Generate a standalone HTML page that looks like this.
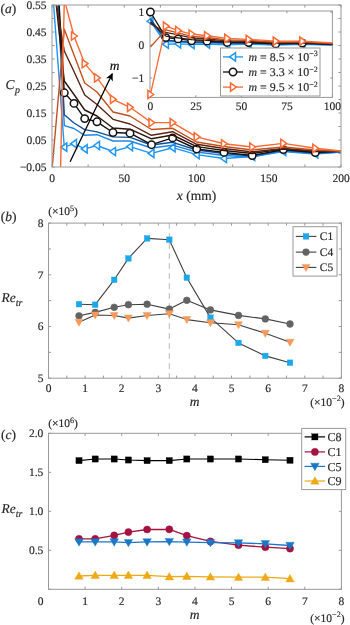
<!DOCTYPE html><html><head><meta charset="utf-8"><style>html,body{margin:0;padding:0;background:#fff;width:350px;height:625px;overflow:hidden}svg{display:block;font-family:"Liberation Serif",serif;will-change:transform;text-rendering:geometricPrecision}text{stroke:#333;stroke-width:0.18px}</style></head><body><svg width="350" height="625" viewBox="0 0 350 625"><defs><clipPath id="ca"><rect x="52" y="5" width="289" height="162"/></clipPath><clipPath id="ci"><rect x="150" y="11" width="182.39999999999998" height="86.4"/></clipPath><marker id="ah" viewBox="0 0 10 10" refX="9" refY="5" markerWidth="8" markerHeight="7.5" orient="auto-start-reverse" markerUnits="userSpaceOnUse"><path d="M0,0 L10,5 L0,10 L2.5,5 z" fill="#000"/></marker></defs>
<g font-family="Liberation Serif, serif">
<polyline points="52,-16.6 64.3,147.2 74,143.7 84.7,148.9 97,145.5 113,151.5 130,146.6 151.5,153.4 172.6,147.7 196.7,154.6 224,158.5 252.2,156.5 283.3,151.5 315.3,154 341,152" fill="none" stroke="#1f96f5" stroke-width="1.4" stroke-linejoin="round" clip-path="url(#ca)"/>
<polygon points="60.98,147.2 66.79,143.05 66.79,151.35" fill="#fff" stroke="#1f96f5" stroke-width="1.5" stroke-linejoin="miter" clip-path="url(#ca)"/>
<polygon points="70.68,143.7 76.49,139.55 76.49,147.85" fill="#fff" stroke="#1f96f5" stroke-width="1.5" stroke-linejoin="miter" clip-path="url(#ca)"/>
<polygon points="81.38,148.9 87.19,144.75 87.19,153.05" fill="#fff" stroke="#1f96f5" stroke-width="1.5" stroke-linejoin="miter" clip-path="url(#ca)"/>
<polygon points="93.68,145.5 99.49,141.35 99.49,149.65" fill="#fff" stroke="#1f96f5" stroke-width="1.5" stroke-linejoin="miter" clip-path="url(#ca)"/>
<polygon points="109.68,151.5 115.49,147.35 115.49,155.65" fill="#fff" stroke="#1f96f5" stroke-width="1.5" stroke-linejoin="miter" clip-path="url(#ca)"/>
<polygon points="126.68,146.6 132.49,142.45 132.49,150.75" fill="#fff" stroke="#1f96f5" stroke-width="1.5" stroke-linejoin="miter" clip-path="url(#ca)"/>
<polygon points="148.18,153.4 153.99,149.25 153.99,157.55" fill="#fff" stroke="#1f96f5" stroke-width="1.5" stroke-linejoin="miter" clip-path="url(#ca)"/>
<polygon points="169.28,147.7 175.09,143.55 175.09,151.85" fill="#fff" stroke="#1f96f5" stroke-width="1.5" stroke-linejoin="miter" clip-path="url(#ca)"/>
<polygon points="193.38,154.6 199.19,150.45 199.19,158.75" fill="#fff" stroke="#1f96f5" stroke-width="1.5" stroke-linejoin="miter" clip-path="url(#ca)"/>
<polygon points="220.68,158.5 226.49,154.35 226.49,162.65" fill="#fff" stroke="#1f96f5" stroke-width="1.5" stroke-linejoin="miter" clip-path="url(#ca)"/>
<polygon points="248.88,156.5 254.69,152.35 254.69,160.65" fill="#fff" stroke="#1f96f5" stroke-width="1.5" stroke-linejoin="miter" clip-path="url(#ca)"/>
<polygon points="279.98,151.5 285.79,147.35 285.79,155.65" fill="#fff" stroke="#1f96f5" stroke-width="1.5" stroke-linejoin="miter" clip-path="url(#ca)"/>
<polygon points="311.98,154 317.79,149.85 317.79,158.15" fill="#fff" stroke="#1f96f5" stroke-width="1.5" stroke-linejoin="miter" clip-path="url(#ca)"/>
<polyline points="52,-116.5 64.3,125.6 74,128.5 84.7,135.3 97,134.7 113,141 130,141 151.5,148 172.6,145.2 196.7,152 224,155.5 252.2,157 283.3,151 315.3,153.5 341,152" fill="none" stroke="#2286e0" stroke-width="1.4" stroke-linejoin="round" clip-path="url(#ca)"/>
<polyline points="52,-130 64.3,114.7 74,123 84.7,129.6 97,131.9 113,136.9 130,137.4 151.5,145 172.6,142.3 196.7,150 224,153.5 252.2,156 283.3,150 315.3,153 341,151.5" fill="none" stroke="#10509a" stroke-width="1.4" stroke-linejoin="round" clip-path="url(#ca)"/>
<polyline points="52,-116.5 64.3,92.8 74,103.4 84.7,118.6 97,121.8 113,132.5 130,133.2 151.5,144.7 172.6,137.9 196.7,149 224,152.4 252.2,155.5 283.3,149.6 315.3,152.5 341,151" fill="none" stroke="#111111" stroke-width="1.4" stroke-linejoin="round" clip-path="url(#ca)"/>
<circle cx="64.3" cy="92.8" r="3.7" fill="#fff" stroke="#111111" stroke-width="1.5" clip-path="url(#ca)"/>
<circle cx="74" cy="103.4" r="3.7" fill="#fff" stroke="#111111" stroke-width="1.5" clip-path="url(#ca)"/>
<circle cx="84.7" cy="118.6" r="3.7" fill="#fff" stroke="#111111" stroke-width="1.5" clip-path="url(#ca)"/>
<circle cx="97" cy="121.8" r="3.7" fill="#fff" stroke="#111111" stroke-width="1.5" clip-path="url(#ca)"/>
<circle cx="113" cy="132.5" r="3.7" fill="#fff" stroke="#111111" stroke-width="1.5" clip-path="url(#ca)"/>
<circle cx="130" cy="133.2" r="3.7" fill="#fff" stroke="#111111" stroke-width="1.5" clip-path="url(#ca)"/>
<circle cx="151.5" cy="144.7" r="3.7" fill="#fff" stroke="#111111" stroke-width="1.5" clip-path="url(#ca)"/>
<circle cx="172.6" cy="137.9" r="3.7" fill="#fff" stroke="#111111" stroke-width="1.5" clip-path="url(#ca)"/>
<circle cx="196.7" cy="149" r="3.7" fill="#fff" stroke="#111111" stroke-width="1.5" clip-path="url(#ca)"/>
<circle cx="224" cy="152.4" r="3.7" fill="#fff" stroke="#111111" stroke-width="1.5" clip-path="url(#ca)"/>
<circle cx="252.2" cy="155.5" r="3.7" fill="#fff" stroke="#111111" stroke-width="1.5" clip-path="url(#ca)"/>
<circle cx="283.3" cy="149.6" r="3.7" fill="#fff" stroke="#111111" stroke-width="1.5" clip-path="url(#ca)"/>
<circle cx="315.3" cy="152.5" r="3.7" fill="#fff" stroke="#111111" stroke-width="1.5" clip-path="url(#ca)"/>
<polyline points="52,-35.5 64.3,81 74,94.5 84.7,110 97,116 113,128 130,129.2 151.5,138.8 172.6,135 196.7,146.6 224,150.5 252.2,153.5 283.3,149 315.3,151.5 341,151" fill="none" stroke="#2e1308" stroke-width="1.4" stroke-linejoin="round" clip-path="url(#ca)"/>
<polyline points="52,-22 64.3,51 74,71.5 84.7,95 97,104.5 113,119.3 130,124 151.5,135.3 172.6,131.7 196.7,144.3 224,148.5 252.2,152 283.3,148.5 315.3,151 341,151" fill="none" stroke="#5a2410" stroke-width="1.4" stroke-linejoin="round" clip-path="url(#ca)"/>
<polyline points="52,169.7 64.3,29.3 74,55 84.7,83 97,92 113,112 130,116 151.5,129.5 172.6,128.3 196.7,142 224,146.5 252.2,150 283.3,147 315.3,150 341,151" fill="none" stroke="#c2501e" stroke-width="1.4" stroke-linejoin="round" clip-path="url(#ca)"/>
<polyline points="52,558.5 64.3,-0.4 74,36 84.7,63.6 97,77.9 113,99.3 130,107.3 151.5,122.6 172.6,122.6 196.7,136.9 224,143.8 252.2,147 283.3,143.4 315.3,148.3 341,151" fill="none" stroke="#fa6a35" stroke-width="1.4" stroke-linejoin="round" clip-path="url(#ca)"/>
<polygon points="67.62,-0.4 61.81,-4.55 61.81,3.75" fill="#fff" stroke="#fa6a35" stroke-width="1.5" stroke-linejoin="miter" clip-path="url(#ca)"/>
<polygon points="77.32,36 71.51,31.85 71.51,40.15" fill="#fff" stroke="#fa6a35" stroke-width="1.5" stroke-linejoin="miter" clip-path="url(#ca)"/>
<polygon points="88.02,63.6 82.21,59.45 82.21,67.75" fill="#fff" stroke="#fa6a35" stroke-width="1.5" stroke-linejoin="miter" clip-path="url(#ca)"/>
<polygon points="100.32,77.9 94.51,73.75 94.51,82.05" fill="#fff" stroke="#fa6a35" stroke-width="1.5" stroke-linejoin="miter" clip-path="url(#ca)"/>
<polygon points="116.32,99.3 110.51,95.15 110.51,103.45" fill="#fff" stroke="#fa6a35" stroke-width="1.5" stroke-linejoin="miter" clip-path="url(#ca)"/>
<polygon points="133.32,107.3 127.51,103.15 127.51,111.45" fill="#fff" stroke="#fa6a35" stroke-width="1.5" stroke-linejoin="miter" clip-path="url(#ca)"/>
<polygon points="154.82,122.6 149.01,118.45 149.01,126.75" fill="#fff" stroke="#fa6a35" stroke-width="1.5" stroke-linejoin="miter" clip-path="url(#ca)"/>
<polygon points="175.92,122.6 170.11,118.45 170.11,126.75" fill="#fff" stroke="#fa6a35" stroke-width="1.5" stroke-linejoin="miter" clip-path="url(#ca)"/>
<polygon points="200.02,136.9 194.21,132.75 194.21,141.05" fill="#fff" stroke="#fa6a35" stroke-width="1.5" stroke-linejoin="miter" clip-path="url(#ca)"/>
<polygon points="227.32,143.8 221.51,139.65 221.51,147.95" fill="#fff" stroke="#fa6a35" stroke-width="1.5" stroke-linejoin="miter" clip-path="url(#ca)"/>
<polygon points="255.52,147 249.71,142.85 249.71,151.15" fill="#fff" stroke="#fa6a35" stroke-width="1.5" stroke-linejoin="miter" clip-path="url(#ca)"/>
<polygon points="286.62,143.4 280.81,139.25 280.81,147.55" fill="#fff" stroke="#fa6a35" stroke-width="1.5" stroke-linejoin="miter" clip-path="url(#ca)"/>
<polygon points="318.62,148.3 312.81,144.15 312.81,152.45" fill="#fff" stroke="#fa6a35" stroke-width="1.5" stroke-linejoin="miter" clip-path="url(#ca)"/>
<rect x="52" y="5" width="289" height="162" fill="none" stroke="#999999" stroke-width="1"/>
<line x1="52" y1="167" x2="52" y2="164.4" stroke="#999999" stroke-width="1"/>
<line x1="52" y1="5" x2="52" y2="7.6" stroke="#999999" stroke-width="1"/>
<line x1="88.12" y1="167" x2="88.12" y2="164.4" stroke="#999999" stroke-width="1"/>
<line x1="88.12" y1="5" x2="88.12" y2="7.6" stroke="#999999" stroke-width="1"/>
<line x1="124.25" y1="167" x2="124.25" y2="164.4" stroke="#999999" stroke-width="1"/>
<line x1="124.25" y1="5" x2="124.25" y2="7.6" stroke="#999999" stroke-width="1"/>
<line x1="160.38" y1="167" x2="160.38" y2="164.4" stroke="#999999" stroke-width="1"/>
<line x1="160.38" y1="5" x2="160.38" y2="7.6" stroke="#999999" stroke-width="1"/>
<line x1="196.5" y1="167" x2="196.5" y2="164.4" stroke="#999999" stroke-width="1"/>
<line x1="196.5" y1="5" x2="196.5" y2="7.6" stroke="#999999" stroke-width="1"/>
<line x1="232.62" y1="167" x2="232.62" y2="164.4" stroke="#999999" stroke-width="1"/>
<line x1="232.62" y1="5" x2="232.62" y2="7.6" stroke="#999999" stroke-width="1"/>
<line x1="268.75" y1="167" x2="268.75" y2="164.4" stroke="#999999" stroke-width="1"/>
<line x1="268.75" y1="5" x2="268.75" y2="7.6" stroke="#999999" stroke-width="1"/>
<line x1="304.88" y1="167" x2="304.88" y2="164.4" stroke="#999999" stroke-width="1"/>
<line x1="304.88" y1="5" x2="304.88" y2="7.6" stroke="#999999" stroke-width="1"/>
<line x1="341" y1="167" x2="341" y2="164.4" stroke="#999999" stroke-width="1"/>
<line x1="341" y1="5" x2="341" y2="7.6" stroke="#999999" stroke-width="1"/>
<line x1="52" y1="167" x2="54.6" y2="167" stroke="#999999" stroke-width="1"/>
<line x1="341" y1="167" x2="338.4" y2="167" stroke="#999999" stroke-width="1"/>
<line x1="52" y1="153.5" x2="54.6" y2="153.5" stroke="#999999" stroke-width="1"/>
<line x1="341" y1="153.5" x2="338.4" y2="153.5" stroke="#999999" stroke-width="1"/>
<line x1="52" y1="140" x2="54.6" y2="140" stroke="#999999" stroke-width="1"/>
<line x1="341" y1="140" x2="338.4" y2="140" stroke="#999999" stroke-width="1"/>
<line x1="52" y1="126.5" x2="54.6" y2="126.5" stroke="#999999" stroke-width="1"/>
<line x1="341" y1="126.5" x2="338.4" y2="126.5" stroke="#999999" stroke-width="1"/>
<line x1="52" y1="113" x2="54.6" y2="113" stroke="#999999" stroke-width="1"/>
<line x1="341" y1="113" x2="338.4" y2="113" stroke="#999999" stroke-width="1"/>
<line x1="52" y1="99.5" x2="54.6" y2="99.5" stroke="#999999" stroke-width="1"/>
<line x1="341" y1="99.5" x2="338.4" y2="99.5" stroke="#999999" stroke-width="1"/>
<line x1="52" y1="86" x2="54.6" y2="86" stroke="#999999" stroke-width="1"/>
<line x1="341" y1="86" x2="338.4" y2="86" stroke="#999999" stroke-width="1"/>
<line x1="52" y1="72.5" x2="54.6" y2="72.5" stroke="#999999" stroke-width="1"/>
<line x1="341" y1="72.5" x2="338.4" y2="72.5" stroke="#999999" stroke-width="1"/>
<line x1="52" y1="59" x2="54.6" y2="59" stroke="#999999" stroke-width="1"/>
<line x1="341" y1="59" x2="338.4" y2="59" stroke="#999999" stroke-width="1"/>
<line x1="52" y1="45.5" x2="54.6" y2="45.5" stroke="#999999" stroke-width="1"/>
<line x1="341" y1="45.5" x2="338.4" y2="45.5" stroke="#999999" stroke-width="1"/>
<line x1="52" y1="32" x2="54.6" y2="32" stroke="#999999" stroke-width="1"/>
<line x1="341" y1="32" x2="338.4" y2="32" stroke="#999999" stroke-width="1"/>
<line x1="52" y1="18.5" x2="54.6" y2="18.5" stroke="#999999" stroke-width="1"/>
<line x1="341" y1="18.5" x2="338.4" y2="18.5" stroke="#999999" stroke-width="1"/>
<line x1="52" y1="5" x2="54.6" y2="5" stroke="#999999" stroke-width="1"/>
<line x1="341" y1="5" x2="338.4" y2="5" stroke="#999999" stroke-width="1"/>
<text x="52" y="181.81" font-size="11.5" text-anchor="middle" fill="#262626">0</text>
<text x="124.25" y="181.81" font-size="11.5" text-anchor="middle" fill="#262626">50</text>
<text x="196.5" y="181.81" font-size="11.5" text-anchor="middle" fill="#262626">100</text>
<text x="268.75" y="181.81" font-size="11.5" text-anchor="middle" fill="#262626">150</text>
<text x="341" y="181.81" font-size="11.5" text-anchor="middle" fill="#262626">200</text>
<text x="46.5" y="170.91" font-size="11.5" text-anchor="end" fill="#262626">&#8722;0.05</text>
<text x="46.5" y="143.91" font-size="11.5" text-anchor="end" fill="#262626">0.05</text>
<text x="46.5" y="116.91" font-size="11.5" text-anchor="end" fill="#262626">0.15</text>
<text x="46.5" y="89.91" font-size="11.5" text-anchor="end" fill="#262626">0.25</text>
<text x="46.5" y="62.91" font-size="11.5" text-anchor="end" fill="#262626">0.35</text>
<text x="46.5" y="35.91" font-size="11.5" text-anchor="end" fill="#262626">0.45</text>
<text x="46.5" y="8.91" font-size="11.5" text-anchor="end" fill="#262626">0.55</text>
<line x1="70.1" y1="161.7" x2="112.3" y2="73.7" stroke="#000" stroke-width="1.3" marker-end="url(#ah)"/>
<text x="114.5" y="70.09" font-size="13.5" text-anchor="middle" font-style="italic" fill="#000">m</text>
<text x="196.5" y="200.09" font-size="13.5" text-anchor="middle" fill="#262626"><tspan font-style="italic">x</tspan> (mm)</text>
<text x="5.5" y="89.2" font-size="13.5" font-style="italic" fill="#262626">C<tspan font-size="10" dx="0.4" dy="4">p</tspan></text>
<text x="0.5" y="12.5" font-size="13.5" fill="#262626">(<tspan font-style="italic">a</tspan>)</text>
<rect x="150" y="11" width="182.39999999999998" height="86.4" fill="#fff" stroke="none"/>
<rect x="150" y="11" width="182.4" height="86.4" fill="none" stroke="#999999" stroke-width="1"/>
<line x1="150.4" y1="97.4" x2="150.4" y2="95.2" stroke="#999999" stroke-width="1"/>
<line x1="150.4" y1="11" x2="150.4" y2="13.2" stroke="#999999" stroke-width="1"/>
<line x1="195.9" y1="97.4" x2="195.9" y2="95.2" stroke="#999999" stroke-width="1"/>
<line x1="195.9" y1="11" x2="195.9" y2="13.2" stroke="#999999" stroke-width="1"/>
<line x1="241.4" y1="97.4" x2="241.4" y2="95.2" stroke="#999999" stroke-width="1"/>
<line x1="241.4" y1="11" x2="241.4" y2="13.2" stroke="#999999" stroke-width="1"/>
<line x1="286.9" y1="97.4" x2="286.9" y2="95.2" stroke="#999999" stroke-width="1"/>
<line x1="286.9" y1="11" x2="286.9" y2="13.2" stroke="#999999" stroke-width="1"/>
<line x1="332.4" y1="97.4" x2="332.4" y2="95.2" stroke="#999999" stroke-width="1"/>
<line x1="332.4" y1="11" x2="332.4" y2="13.2" stroke="#999999" stroke-width="1"/>
<line x1="150" y1="78" x2="152.2" y2="78" stroke="#999999" stroke-width="1"/>
<line x1="332.4" y1="78" x2="330.2" y2="78" stroke="#999999" stroke-width="1"/>
<line x1="150" y1="45" x2="152.2" y2="45" stroke="#999999" stroke-width="1"/>
<line x1="332.4" y1="45" x2="330.2" y2="45" stroke="#999999" stroke-width="1"/>
<line x1="150" y1="12" x2="152.2" y2="12" stroke="#999999" stroke-width="1"/>
<line x1="332.4" y1="12" x2="330.2" y2="12" stroke="#999999" stroke-width="1"/>
<polyline points="150.4,21.24 165.89,44.23 178.11,43.8 191.59,44.44 207.08,44.02 227.23,44.76 248.64,44.16 275.72,44.99 302.3,44.29 332.65,45.13 367.04,45.61 402.56,45.37 441.73,44.76 482.03,45.06 514.4,44.82" fill="none" stroke="#1f96f5" stroke-width="1.3" stroke-linejoin="round" clip-path="url(#ci)"/>
<polygon points="147.08,21.24 152.89,17.09 152.89,25.39" fill="#fff" stroke="#1f96f5" stroke-width="1.5" stroke-linejoin="miter"/>
<polygon points="162.57,44.23 168.38,40.08 168.38,48.38" fill="#fff" stroke="#1f96f5" stroke-width="1.5" stroke-linejoin="miter"/>
<polygon points="174.79,43.8 180.6,39.65 180.6,47.95" fill="#fff" stroke="#1f96f5" stroke-width="1.5" stroke-linejoin="miter"/>
<polygon points="188.27,44.44 194.08,40.29 194.08,48.59" fill="#fff" stroke="#1f96f5" stroke-width="1.5" stroke-linejoin="miter"/>
<polygon points="203.76,44.02 209.57,39.87 209.57,48.17" fill="#fff" stroke="#1f96f5" stroke-width="1.5" stroke-linejoin="miter"/>
<polygon points="223.91,44.76 229.72,40.61 229.72,48.91" fill="#fff" stroke="#1f96f5" stroke-width="1.5" stroke-linejoin="miter"/>
<polygon points="245.32,44.16 251.13,40.01 251.13,48.31" fill="#fff" stroke="#1f96f5" stroke-width="1.5" stroke-linejoin="miter"/>
<polygon points="272.4,44.99 278.21,40.84 278.21,49.14" fill="#fff" stroke="#1f96f5" stroke-width="1.5" stroke-linejoin="miter"/>
<polygon points="298.98,44.29 304.79,40.14 304.79,48.44" fill="#fff" stroke="#1f96f5" stroke-width="1.5" stroke-linejoin="miter"/>
<polyline points="150.4,20.25 165.89,41.59 178.11,41.94 191.59,42.78 207.08,42.7 227.23,43.47 248.64,43.47 275.72,44.33 302.3,43.99 332.65,44.82 367.04,45.24 402.56,45.43 441.73,44.69 482.03,45 514.4,44.82" fill="none" stroke="#2286e0" stroke-width="1.3" stroke-linejoin="round" clip-path="url(#ci)"/>
<polyline points="150.4,18.6 165.89,40.26 178.11,41.27 191.59,42.08 207.08,42.36 227.23,42.97 248.64,43.03 275.72,43.96 302.3,43.63 332.65,44.57 367.04,45 402.56,45.31 441.73,44.57 482.03,44.94 514.4,44.76" fill="none" stroke="#10509a" stroke-width="1.3" stroke-linejoin="round" clip-path="url(#ci)"/>
<polyline points="150.4,12 165.89,37.58 178.11,38.88 191.59,40.73 207.08,41.13 227.23,42.43 248.64,42.52 275.72,43.92 302.3,43.09 332.65,44.45 367.04,44.87 402.56,45.24 441.73,44.52 482.03,44.88 514.4,44.69" fill="none" stroke="#111111" stroke-width="1.3" stroke-linejoin="round" clip-path="url(#ci)"/>
<circle cx="150.4" cy="12" r="3.7" fill="#fff" stroke="#111111" stroke-width="1.5"/>
<circle cx="165.89" cy="37.58" r="3.7" fill="#fff" stroke="#111111" stroke-width="1.5"/>
<circle cx="178.11" cy="38.88" r="3.7" fill="#fff" stroke="#111111" stroke-width="1.5"/>
<circle cx="191.59" cy="40.73" r="3.7" fill="#fff" stroke="#111111" stroke-width="1.5"/>
<circle cx="207.08" cy="41.13" r="3.7" fill="#fff" stroke="#111111" stroke-width="1.5"/>
<circle cx="227.23" cy="42.43" r="3.7" fill="#fff" stroke="#111111" stroke-width="1.5"/>
<circle cx="248.64" cy="42.52" r="3.7" fill="#fff" stroke="#111111" stroke-width="1.5"/>
<circle cx="275.72" cy="43.92" r="3.7" fill="#fff" stroke="#111111" stroke-width="1.5"/>
<circle cx="302.3" cy="43.09" r="3.7" fill="#fff" stroke="#111111" stroke-width="1.5"/>
<polyline points="150.4,21.9 165.89,36.14 178.11,37.79 191.59,39.68 207.08,40.42 227.23,41.88 248.64,42.03 275.72,43.2 302.3,42.74 332.65,44.16 367.04,44.63 402.56,45 441.73,44.45 482.03,44.76 514.4,44.69" fill="none" stroke="#2e1308" stroke-width="1.3" stroke-linejoin="round" clip-path="url(#ci)"/>
<polyline points="150.4,23.55 165.89,32.47 178.11,34.98 191.59,37.85 207.08,39.01 227.23,40.82 248.64,41.39 275.72,42.78 302.3,42.34 332.65,43.88 367.04,44.39 402.56,44.82 441.73,44.39 482.03,44.69 514.4,44.69" fill="none" stroke="#5a2410" stroke-width="1.3" stroke-linejoin="round" clip-path="url(#ci)"/>
<polyline points="150.4,46.98 165.89,29.82 178.11,32.96 191.59,36.38 207.08,37.48 227.23,39.93 248.64,40.42 275.72,42.07 302.3,41.92 332.65,43.59 367.04,44.14 402.56,44.57 441.73,44.21 482.03,44.57 514.4,44.69" fill="none" stroke="#c2501e" stroke-width="1.3" stroke-linejoin="round" clip-path="url(#ci)"/>
<polyline points="150.4,94.5 165.89,26.19 178.11,30.64 191.59,34.01 207.08,35.76 227.23,38.38 248.64,39.35 275.72,41.22 302.3,41.22 332.65,42.97 367.04,43.81 402.56,44.21 441.73,43.77 482.03,44.36 514.4,44.69" fill="none" stroke="#fa6a35" stroke-width="1.3" stroke-linejoin="round" clip-path="url(#ci)"/>
<polygon points="153.72,94.5 147.91,90.35 147.91,98.65" fill="#fff" stroke="#fa6a35" stroke-width="1.5" stroke-linejoin="miter"/>
<polygon points="169.21,26.19 163.4,22.04 163.4,30.34" fill="#fff" stroke="#fa6a35" stroke-width="1.5" stroke-linejoin="miter"/>
<polygon points="181.43,30.64 175.62,26.49 175.62,34.79" fill="#fff" stroke="#fa6a35" stroke-width="1.5" stroke-linejoin="miter"/>
<polygon points="194.91,34.01 189.1,29.86 189.1,38.16" fill="#fff" stroke="#fa6a35" stroke-width="1.5" stroke-linejoin="miter"/>
<polygon points="210.4,35.76 204.59,31.61 204.59,39.91" fill="#fff" stroke="#fa6a35" stroke-width="1.5" stroke-linejoin="miter"/>
<polygon points="230.55,38.38 224.74,34.23 224.74,42.53" fill="#fff" stroke="#fa6a35" stroke-width="1.5" stroke-linejoin="miter"/>
<polygon points="251.96,39.35 246.15,35.2 246.15,43.5" fill="#fff" stroke="#fa6a35" stroke-width="1.5" stroke-linejoin="miter"/>
<polygon points="279.04,41.22 273.23,37.07 273.23,45.37" fill="#fff" stroke="#fa6a35" stroke-width="1.5" stroke-linejoin="miter"/>
<polygon points="305.62,41.22 299.81,37.07 299.81,45.37" fill="#fff" stroke="#fa6a35" stroke-width="1.5" stroke-linejoin="miter"/>
<text x="150.4" y="109.91" font-size="11.5" text-anchor="middle" fill="#262626">0</text>
<text x="195.9" y="109.91" font-size="11.5" text-anchor="middle" fill="#262626">25</text>
<text x="241.4" y="109.91" font-size="11.5" text-anchor="middle" fill="#262626">50</text>
<text x="286.9" y="109.91" font-size="11.5" text-anchor="middle" fill="#262626">75</text>
<text x="332.4" y="109.91" font-size="11.5" text-anchor="middle" fill="#262626">100</text>
<text x="144.2" y="15.91" font-size="11.5" text-anchor="end" fill="#262626">1</text>
<text x="144.2" y="48.91" font-size="11.5" text-anchor="end" fill="#262626">0</text>
<text x="144.2" y="81.91" font-size="11.5" text-anchor="end" fill="#262626">&#8722;1</text>
<rect x="220.5" y="48" width="99.5" height="48" fill="#fff" stroke="#999999" stroke-width="1"/>
<line x1="223" y1="56.9" x2="243" y2="56.9" stroke="#1f96f5" stroke-width="1.3"/>
<polygon points="229.68,56.9 235.49,52.75 235.49,61.05" fill="#fff" stroke="#1f96f5" stroke-width="1.5" stroke-linejoin="miter"/>
<text x="248.5" y="60.9" font-size="11.9" fill="#262626"><tspan font-style="italic">m</tspan> = 8.5 × 10<tspan font-size="8" dy="-4.5">&#8722;3</tspan></text>
<line x1="223" y1="72" x2="243" y2="72" stroke="#111111" stroke-width="1.3"/>
<circle cx="233" cy="72" r="3.7" fill="#fff" stroke="#111111" stroke-width="1.5"/>
<text x="248.5" y="76" font-size="11.9" fill="#262626"><tspan font-style="italic">m</tspan> = 3.3 × 10<tspan font-size="8" dy="-4.5">&#8722;2</tspan></text>
<line x1="223" y1="87.1" x2="243" y2="87.1" stroke="#fa6a35" stroke-width="1.3"/>
<polygon points="236.32,87.1 230.51,82.95 230.51,91.25" fill="#fff" stroke="#fa6a35" stroke-width="1.5" stroke-linejoin="miter"/>
<text x="248.5" y="91.1" font-size="11.9" fill="#262626"><tspan font-style="italic">m</tspan> = 9.5 × 10<tspan font-size="8" dy="-4.5">&#8722;2</tspan></text>
</g>
<g font-family="Liberation Serif, serif">
<line x1="169.3" y1="223.1" x2="169.3" y2="378.2" stroke="#b8b8b8" stroke-width="1" stroke-dasharray="6,4"/>
<polyline points="79,304.2 95.2,304.7 114.2,279.8 128.4,258.4 147.1,238.4 169.3,239.7 186.8,277.7 210.4,317.6 238.5,342.9 265.3,355.9 290,362.7" fill="none" stroke="#404040" stroke-width="1.1" stroke-linejoin="round"/>
<rect x="76.2" y="301.4" width="5.6" height="5.6" fill="#1aa7ec" stroke="#1aa7ec" stroke-width="0.4"/>
<rect x="92.4" y="301.9" width="5.6" height="5.6" fill="#1aa7ec" stroke="#1aa7ec" stroke-width="0.4"/>
<rect x="111.4" y="277" width="5.6" height="5.6" fill="#1aa7ec" stroke="#1aa7ec" stroke-width="0.4"/>
<rect x="125.6" y="255.6" width="5.6" height="5.6" fill="#1aa7ec" stroke="#1aa7ec" stroke-width="0.4"/>
<rect x="144.3" y="235.6" width="5.6" height="5.6" fill="#1aa7ec" stroke="#1aa7ec" stroke-width="0.4"/>
<rect x="166.5" y="236.9" width="5.6" height="5.6" fill="#1aa7ec" stroke="#1aa7ec" stroke-width="0.4"/>
<rect x="184" y="274.9" width="5.6" height="5.6" fill="#1aa7ec" stroke="#1aa7ec" stroke-width="0.4"/>
<rect x="207.6" y="314.8" width="5.6" height="5.6" fill="#1aa7ec" stroke="#1aa7ec" stroke-width="0.4"/>
<rect x="235.7" y="340.1" width="5.6" height="5.6" fill="#1aa7ec" stroke="#1aa7ec" stroke-width="0.4"/>
<rect x="262.5" y="353.1" width="5.6" height="5.6" fill="#1aa7ec" stroke="#1aa7ec" stroke-width="0.4"/>
<rect x="287.2" y="359.9" width="5.6" height="5.6" fill="#1aa7ec" stroke="#1aa7ec" stroke-width="0.4"/>
<polyline points="79,315.8 95.2,312.4 114.2,307.3 128.4,304.7 147.1,304.2 169.3,309.1 186.8,300.3 210.4,309.9 238.5,315.4 265.3,318.9 290,324" fill="none" stroke="#404040" stroke-width="1.1" stroke-linejoin="round"/>
<circle cx="79" cy="315.8" r="3.4" fill="#636363" stroke="#636363" stroke-width="0.5"/>
<circle cx="95.2" cy="312.4" r="3.4" fill="#636363" stroke="#636363" stroke-width="0.5"/>
<circle cx="114.2" cy="307.3" r="3.4" fill="#636363" stroke="#636363" stroke-width="0.5"/>
<circle cx="128.4" cy="304.7" r="3.4" fill="#636363" stroke="#636363" stroke-width="0.5"/>
<circle cx="147.1" cy="304.2" r="3.4" fill="#636363" stroke="#636363" stroke-width="0.5"/>
<circle cx="169.3" cy="309.1" r="3.4" fill="#636363" stroke="#636363" stroke-width="0.5"/>
<circle cx="186.8" cy="300.3" r="3.4" fill="#636363" stroke="#636363" stroke-width="0.5"/>
<circle cx="210.4" cy="309.9" r="3.4" fill="#636363" stroke="#636363" stroke-width="0.5"/>
<circle cx="238.5" cy="315.4" r="3.4" fill="#636363" stroke="#636363" stroke-width="0.5"/>
<circle cx="265.3" cy="318.9" r="3.4" fill="#636363" stroke="#636363" stroke-width="0.5"/>
<circle cx="290" cy="324" r="3.4" fill="#636363" stroke="#636363" stroke-width="0.5"/>
<polyline points="79,322.2 95.2,315 114.2,315.5 128.4,318.1 147.1,315.5 169.3,313.7 186.8,319.6 210.4,322.7 238.5,324.7 265.3,333.3 290,342.2" fill="none" stroke="#404040" stroke-width="1.1" stroke-linejoin="round"/>
<polygon points="79,326.2 75,319.2 83,319.2" fill="#f59a5a" stroke="#f59a5a" stroke-width="0.5" stroke-linejoin="miter"/>
<polygon points="95.2,319 91.2,312 99.2,312" fill="#f59a5a" stroke="#f59a5a" stroke-width="0.5" stroke-linejoin="miter"/>
<polygon points="114.2,319.5 110.2,312.5 118.2,312.5" fill="#f59a5a" stroke="#f59a5a" stroke-width="0.5" stroke-linejoin="miter"/>
<polygon points="128.4,322.1 124.4,315.1 132.4,315.1" fill="#f59a5a" stroke="#f59a5a" stroke-width="0.5" stroke-linejoin="miter"/>
<polygon points="147.1,319.5 143.1,312.5 151.1,312.5" fill="#f59a5a" stroke="#f59a5a" stroke-width="0.5" stroke-linejoin="miter"/>
<polygon points="169.3,317.7 165.3,310.7 173.3,310.7" fill="#f59a5a" stroke="#f59a5a" stroke-width="0.5" stroke-linejoin="miter"/>
<polygon points="186.8,323.6 182.8,316.6 190.8,316.6" fill="#f59a5a" stroke="#f59a5a" stroke-width="0.5" stroke-linejoin="miter"/>
<polygon points="210.4,326.7 206.4,319.7 214.4,319.7" fill="#f59a5a" stroke="#f59a5a" stroke-width="0.5" stroke-linejoin="miter"/>
<polygon points="238.5,328.7 234.5,321.7 242.5,321.7" fill="#f59a5a" stroke="#f59a5a" stroke-width="0.5" stroke-linejoin="miter"/>
<polygon points="265.3,337.3 261.3,330.3 269.3,330.3" fill="#f59a5a" stroke="#f59a5a" stroke-width="0.5" stroke-linejoin="miter"/>
<polygon points="290,346.2 286,339.2 294,339.2" fill="#f59a5a" stroke="#f59a5a" stroke-width="0.5" stroke-linejoin="miter"/>
<rect x="48.5" y="223.1" width="292.9" height="155.1" fill="none" stroke="#999999" stroke-width="1"/>
<line x1="48.5" y1="378.2" x2="48.5" y2="375.6" stroke="#999999" stroke-width="1"/>
<line x1="48.5" y1="223.1" x2="48.5" y2="225.7" stroke="#999999" stroke-width="1"/>
<line x1="66.81" y1="378.2" x2="66.81" y2="375.6" stroke="#999999" stroke-width="1"/>
<line x1="66.81" y1="223.1" x2="66.81" y2="225.7" stroke="#999999" stroke-width="1"/>
<line x1="85.11" y1="378.2" x2="85.11" y2="375.6" stroke="#999999" stroke-width="1"/>
<line x1="85.11" y1="223.1" x2="85.11" y2="225.7" stroke="#999999" stroke-width="1"/>
<line x1="103.42" y1="378.2" x2="103.42" y2="375.6" stroke="#999999" stroke-width="1"/>
<line x1="103.42" y1="223.1" x2="103.42" y2="225.7" stroke="#999999" stroke-width="1"/>
<line x1="121.72" y1="378.2" x2="121.72" y2="375.6" stroke="#999999" stroke-width="1"/>
<line x1="121.72" y1="223.1" x2="121.72" y2="225.7" stroke="#999999" stroke-width="1"/>
<line x1="140.03" y1="378.2" x2="140.03" y2="375.6" stroke="#999999" stroke-width="1"/>
<line x1="140.03" y1="223.1" x2="140.03" y2="225.7" stroke="#999999" stroke-width="1"/>
<line x1="158.34" y1="378.2" x2="158.34" y2="375.6" stroke="#999999" stroke-width="1"/>
<line x1="158.34" y1="223.1" x2="158.34" y2="225.7" stroke="#999999" stroke-width="1"/>
<line x1="176.64" y1="378.2" x2="176.64" y2="375.6" stroke="#999999" stroke-width="1"/>
<line x1="176.64" y1="223.1" x2="176.64" y2="225.7" stroke="#999999" stroke-width="1"/>
<line x1="194.95" y1="378.2" x2="194.95" y2="375.6" stroke="#999999" stroke-width="1"/>
<line x1="194.95" y1="223.1" x2="194.95" y2="225.7" stroke="#999999" stroke-width="1"/>
<line x1="213.26" y1="378.2" x2="213.26" y2="375.6" stroke="#999999" stroke-width="1"/>
<line x1="213.26" y1="223.1" x2="213.26" y2="225.7" stroke="#999999" stroke-width="1"/>
<line x1="231.56" y1="378.2" x2="231.56" y2="375.6" stroke="#999999" stroke-width="1"/>
<line x1="231.56" y1="223.1" x2="231.56" y2="225.7" stroke="#999999" stroke-width="1"/>
<line x1="249.87" y1="378.2" x2="249.87" y2="375.6" stroke="#999999" stroke-width="1"/>
<line x1="249.87" y1="223.1" x2="249.87" y2="225.7" stroke="#999999" stroke-width="1"/>
<line x1="268.17" y1="378.2" x2="268.17" y2="375.6" stroke="#999999" stroke-width="1"/>
<line x1="268.17" y1="223.1" x2="268.17" y2="225.7" stroke="#999999" stroke-width="1"/>
<line x1="286.48" y1="378.2" x2="286.48" y2="375.6" stroke="#999999" stroke-width="1"/>
<line x1="286.48" y1="223.1" x2="286.48" y2="225.7" stroke="#999999" stroke-width="1"/>
<line x1="304.79" y1="378.2" x2="304.79" y2="375.6" stroke="#999999" stroke-width="1"/>
<line x1="304.79" y1="223.1" x2="304.79" y2="225.7" stroke="#999999" stroke-width="1"/>
<line x1="323.09" y1="378.2" x2="323.09" y2="375.6" stroke="#999999" stroke-width="1"/>
<line x1="323.09" y1="223.1" x2="323.09" y2="225.7" stroke="#999999" stroke-width="1"/>
<line x1="341.4" y1="378.2" x2="341.4" y2="375.6" stroke="#999999" stroke-width="1"/>
<line x1="341.4" y1="223.1" x2="341.4" y2="225.7" stroke="#999999" stroke-width="1"/>
<line x1="48.5" y1="378.2" x2="51.1" y2="378.2" stroke="#999999" stroke-width="1"/>
<line x1="341.4" y1="378.2" x2="338.8" y2="378.2" stroke="#999999" stroke-width="1"/>
<line x1="48.5" y1="352.35" x2="51.1" y2="352.35" stroke="#999999" stroke-width="1"/>
<line x1="341.4" y1="352.35" x2="338.8" y2="352.35" stroke="#999999" stroke-width="1"/>
<line x1="48.5" y1="326.5" x2="51.1" y2="326.5" stroke="#999999" stroke-width="1"/>
<line x1="341.4" y1="326.5" x2="338.8" y2="326.5" stroke="#999999" stroke-width="1"/>
<line x1="48.5" y1="300.65" x2="51.1" y2="300.65" stroke="#999999" stroke-width="1"/>
<line x1="341.4" y1="300.65" x2="338.8" y2="300.65" stroke="#999999" stroke-width="1"/>
<line x1="48.5" y1="274.8" x2="51.1" y2="274.8" stroke="#999999" stroke-width="1"/>
<line x1="341.4" y1="274.8" x2="338.8" y2="274.8" stroke="#999999" stroke-width="1"/>
<line x1="48.5" y1="248.95" x2="51.1" y2="248.95" stroke="#999999" stroke-width="1"/>
<line x1="341.4" y1="248.95" x2="338.8" y2="248.95" stroke="#999999" stroke-width="1"/>
<line x1="48.5" y1="223.1" x2="51.1" y2="223.1" stroke="#999999" stroke-width="1"/>
<line x1="341.4" y1="223.1" x2="338.8" y2="223.1" stroke="#999999" stroke-width="1"/>
<text x="48.5" y="392.31" font-size="11.5" text-anchor="middle" fill="#262626">0</text>
<text x="85.11" y="392.31" font-size="11.5" text-anchor="middle" fill="#262626">1</text>
<text x="121.72" y="392.31" font-size="11.5" text-anchor="middle" fill="#262626">2</text>
<text x="158.34" y="392.31" font-size="11.5" text-anchor="middle" fill="#262626">3</text>
<text x="194.95" y="392.31" font-size="11.5" text-anchor="middle" fill="#262626">4</text>
<text x="231.56" y="392.31" font-size="11.5" text-anchor="middle" fill="#262626">5</text>
<text x="268.17" y="392.31" font-size="11.5" text-anchor="middle" fill="#262626">6</text>
<text x="304.79" y="392.31" font-size="11.5" text-anchor="middle" fill="#262626">7</text>
<text x="341.4" y="392.31" font-size="11.5" text-anchor="middle" fill="#262626">8</text>
<text x="43.6" y="382.11" font-size="11.5" text-anchor="end" fill="#262626">5</text>
<text x="43.6" y="330.41" font-size="11.5" text-anchor="end" fill="#262626">6</text>
<text x="43.6" y="278.71" font-size="11.5" text-anchor="end" fill="#262626">7</text>
<text x="43.6" y="227.01" font-size="11.5" text-anchor="end" fill="#262626">8</text>
<text x="48.2" y="215.3" font-size="11.5" fill="#262626">(×10<tspan font-size="8.2" dy="-4.3">5</tspan><tspan dy="4.3">)</tspan></text>
<text x="310.2" y="405.5" font-size="11.5" fill="#262626">(×10<tspan font-size="8.2" dy="-4.3">&#8722;2</tspan><tspan dy="4.3">)</tspan></text>
<text x="194.5" y="406.09" font-size="13.5" text-anchor="middle" font-style="italic" fill="#262626">m</text>
<text x="1.5" y="302" font-size="13.5" font-style="italic" fill="#262626">Re<tspan font-size="10" dy="4">tr</tspan></text>
<text x="0.8" y="220.6" font-size="13.5" fill="#262626">(<tspan font-style="italic">b</tspan>)</text>
<rect x="293" y="226.7" width="44" height="49.4" fill="#fff" stroke="#999999" stroke-width="1"/>
<line x1="295.8" y1="236.4" x2="316.4" y2="236.4" stroke="#404040" stroke-width="1.1"/>
<rect x="303.2" y="233.6" width="5.6" height="5.6" fill="#1aa7ec" stroke="#1aa7ec" stroke-width="0.4"/>
<text x="319.8" y="240.31" font-size="11.5" text-anchor="start" fill="#262626">C1</text>
<line x1="295.8" y1="252.1" x2="316.4" y2="252.1" stroke="#404040" stroke-width="1.1"/>
<circle cx="306" cy="252.1" r="3.4" fill="#636363" stroke="#636363" stroke-width="0.5"/>
<text x="319.8" y="256.01" font-size="11.5" text-anchor="start" fill="#262626">C4</text>
<line x1="295.8" y1="267.4" x2="316.4" y2="267.4" stroke="#404040" stroke-width="1.1"/>
<polygon points="306,271.4 302,264.4 310,264.4" fill="#f59a5a" stroke="#f59a5a" stroke-width="0.5" stroke-linejoin="miter"/>
<text x="319.8" y="271.31" font-size="11.5" text-anchor="start" fill="#262626">C5</text>
</g>
<g font-family="Liberation Serif, serif">
<polyline points="79,460.6 95.2,459 114.2,459 128.4,460 147.1,460.6 169.3,460.6 186.8,459 210.4,459 238.5,459 265.3,459.7 290,460.3" fill="none" stroke="#000000" stroke-width="1.1" stroke-linejoin="round"/>
<rect x="75.9" y="457.5" width="6.2" height="6.2" fill="#000000" stroke="#000000" stroke-width="0.3"/>
<rect x="92.1" y="455.9" width="6.2" height="6.2" fill="#000000" stroke="#000000" stroke-width="0.3"/>
<rect x="111.1" y="455.9" width="6.2" height="6.2" fill="#000000" stroke="#000000" stroke-width="0.3"/>
<rect x="125.3" y="456.9" width="6.2" height="6.2" fill="#000000" stroke="#000000" stroke-width="0.3"/>
<rect x="144" y="457.5" width="6.2" height="6.2" fill="#000000" stroke="#000000" stroke-width="0.3"/>
<rect x="166.2" y="457.5" width="6.2" height="6.2" fill="#000000" stroke="#000000" stroke-width="0.3"/>
<rect x="183.7" y="455.9" width="6.2" height="6.2" fill="#000000" stroke="#000000" stroke-width="0.3"/>
<rect x="207.3" y="455.9" width="6.2" height="6.2" fill="#000000" stroke="#000000" stroke-width="0.3"/>
<rect x="235.4" y="455.9" width="6.2" height="6.2" fill="#000000" stroke="#000000" stroke-width="0.3"/>
<rect x="262.2" y="456.6" width="6.2" height="6.2" fill="#000000" stroke="#000000" stroke-width="0.3"/>
<rect x="286.9" y="457.2" width="6.2" height="6.2" fill="#000000" stroke="#000000" stroke-width="0.3"/>
<polyline points="79,538.8 95.2,538.8 114.2,535.4 128.4,532.1 147.1,529.5 169.3,529.3 186.8,535.6 210.4,541.4 238.5,545.2 265.3,547.2 290,548.6" fill="none" stroke="#a4123f" stroke-width="1.3" stroke-linejoin="round"/>
<circle cx="79" cy="538.8" r="3.6" fill="#a4123f" stroke="#a4123f" stroke-width="0.4"/>
<circle cx="95.2" cy="538.8" r="3.6" fill="#a4123f" stroke="#a4123f" stroke-width="0.4"/>
<circle cx="114.2" cy="535.4" r="3.6" fill="#a4123f" stroke="#a4123f" stroke-width="0.4"/>
<circle cx="128.4" cy="532.1" r="3.6" fill="#a4123f" stroke="#a4123f" stroke-width="0.4"/>
<circle cx="147.1" cy="529.5" r="3.6" fill="#a4123f" stroke="#a4123f" stroke-width="0.4"/>
<circle cx="169.3" cy="529.3" r="3.6" fill="#a4123f" stroke="#a4123f" stroke-width="0.4"/>
<circle cx="186.8" cy="535.6" r="3.6" fill="#a4123f" stroke="#a4123f" stroke-width="0.4"/>
<circle cx="210.4" cy="541.4" r="3.6" fill="#a4123f" stroke="#a4123f" stroke-width="0.4"/>
<circle cx="238.5" cy="545.2" r="3.6" fill="#a4123f" stroke="#a4123f" stroke-width="0.4"/>
<circle cx="265.3" cy="547.2" r="3.6" fill="#a4123f" stroke="#a4123f" stroke-width="0.4"/>
<circle cx="290" cy="548.6" r="3.6" fill="#a4123f" stroke="#a4123f" stroke-width="0.4"/>
<polyline points="79,541.9 95.2,541.9 114.2,541.9 128.4,542.6 147.1,541.9 169.3,541.6 186.8,542.1 210.4,542.7 238.5,542.9 265.3,543.8 290,545.5" fill="none" stroke="#1a78c8" stroke-width="1.3" stroke-linejoin="round"/>
<polygon points="79,546.15 74.75,538.71 83.25,538.71" fill="#1a78c8" stroke="#1a78c8" stroke-width="0.4" stroke-linejoin="miter"/>
<polygon points="95.2,546.15 90.95,538.71 99.45,538.71" fill="#1a78c8" stroke="#1a78c8" stroke-width="0.4" stroke-linejoin="miter"/>
<polygon points="114.2,546.15 109.95,538.71 118.45,538.71" fill="#1a78c8" stroke="#1a78c8" stroke-width="0.4" stroke-linejoin="miter"/>
<polygon points="128.4,546.85 124.15,539.41 132.65,539.41" fill="#1a78c8" stroke="#1a78c8" stroke-width="0.4" stroke-linejoin="miter"/>
<polygon points="147.1,546.15 142.85,538.71 151.35,538.71" fill="#1a78c8" stroke="#1a78c8" stroke-width="0.4" stroke-linejoin="miter"/>
<polygon points="169.3,545.85 165.05,538.41 173.55,538.41" fill="#1a78c8" stroke="#1a78c8" stroke-width="0.4" stroke-linejoin="miter"/>
<polygon points="186.8,546.35 182.55,538.91 191.05,538.91" fill="#1a78c8" stroke="#1a78c8" stroke-width="0.4" stroke-linejoin="miter"/>
<polygon points="210.4,546.95 206.15,539.51 214.65,539.51" fill="#1a78c8" stroke="#1a78c8" stroke-width="0.4" stroke-linejoin="miter"/>
<polygon points="238.5,547.15 234.25,539.71 242.75,539.71" fill="#1a78c8" stroke="#1a78c8" stroke-width="0.4" stroke-linejoin="miter"/>
<polygon points="265.3,548.05 261.05,540.61 269.55,540.61" fill="#1a78c8" stroke="#1a78c8" stroke-width="0.4" stroke-linejoin="miter"/>
<polygon points="290,549.75 285.75,542.31 294.25,542.31" fill="#1a78c8" stroke="#1a78c8" stroke-width="0.4" stroke-linejoin="miter"/>
<polyline points="79,576 95.2,575.3 114.2,575.3 128.4,575.3 147.1,575.3 169.3,576.7 186.8,576.3 210.4,576.9 238.5,577.2 265.3,577.2 290,578.7" fill="none" stroke="#eda916" stroke-width="1.3" stroke-linejoin="round"/>
<polygon points="79,571.75 74.75,579.19 83.25,579.19" fill="#eda916" stroke="#eda916" stroke-width="0.4" stroke-linejoin="miter"/>
<polygon points="95.2,571.05 90.95,578.49 99.45,578.49" fill="#eda916" stroke="#eda916" stroke-width="0.4" stroke-linejoin="miter"/>
<polygon points="114.2,571.05 109.95,578.49 118.45,578.49" fill="#eda916" stroke="#eda916" stroke-width="0.4" stroke-linejoin="miter"/>
<polygon points="128.4,571.05 124.15,578.49 132.65,578.49" fill="#eda916" stroke="#eda916" stroke-width="0.4" stroke-linejoin="miter"/>
<polygon points="147.1,571.05 142.85,578.49 151.35,578.49" fill="#eda916" stroke="#eda916" stroke-width="0.4" stroke-linejoin="miter"/>
<polygon points="169.3,572.45 165.05,579.89 173.55,579.89" fill="#eda916" stroke="#eda916" stroke-width="0.4" stroke-linejoin="miter"/>
<polygon points="186.8,572.05 182.55,579.49 191.05,579.49" fill="#eda916" stroke="#eda916" stroke-width="0.4" stroke-linejoin="miter"/>
<polygon points="210.4,572.65 206.15,580.09 214.65,580.09" fill="#eda916" stroke="#eda916" stroke-width="0.4" stroke-linejoin="miter"/>
<polygon points="238.5,572.95 234.25,580.39 242.75,580.39" fill="#eda916" stroke="#eda916" stroke-width="0.4" stroke-linejoin="miter"/>
<polygon points="265.3,572.95 261.05,580.39 269.55,580.39" fill="#eda916" stroke="#eda916" stroke-width="0.4" stroke-linejoin="miter"/>
<polygon points="290,574.45 285.75,581.89 294.25,581.89" fill="#eda916" stroke="#eda916" stroke-width="0.4" stroke-linejoin="miter"/>
<rect x="48.5" y="433.3" width="292.9" height="156" fill="none" stroke="#999999" stroke-width="1"/>
<line x1="48.5" y1="589.3" x2="48.5" y2="586.7" stroke="#999999" stroke-width="1"/>
<line x1="48.5" y1="433.3" x2="48.5" y2="435.9" stroke="#999999" stroke-width="1"/>
<line x1="85.11" y1="589.3" x2="85.11" y2="586.7" stroke="#999999" stroke-width="1"/>
<line x1="85.11" y1="433.3" x2="85.11" y2="435.9" stroke="#999999" stroke-width="1"/>
<line x1="121.72" y1="589.3" x2="121.72" y2="586.7" stroke="#999999" stroke-width="1"/>
<line x1="121.72" y1="433.3" x2="121.72" y2="435.9" stroke="#999999" stroke-width="1"/>
<line x1="158.34" y1="589.3" x2="158.34" y2="586.7" stroke="#999999" stroke-width="1"/>
<line x1="158.34" y1="433.3" x2="158.34" y2="435.9" stroke="#999999" stroke-width="1"/>
<line x1="194.95" y1="589.3" x2="194.95" y2="586.7" stroke="#999999" stroke-width="1"/>
<line x1="194.95" y1="433.3" x2="194.95" y2="435.9" stroke="#999999" stroke-width="1"/>
<line x1="231.56" y1="589.3" x2="231.56" y2="586.7" stroke="#999999" stroke-width="1"/>
<line x1="231.56" y1="433.3" x2="231.56" y2="435.9" stroke="#999999" stroke-width="1"/>
<line x1="268.17" y1="589.3" x2="268.17" y2="586.7" stroke="#999999" stroke-width="1"/>
<line x1="268.17" y1="433.3" x2="268.17" y2="435.9" stroke="#999999" stroke-width="1"/>
<line x1="304.79" y1="589.3" x2="304.79" y2="586.7" stroke="#999999" stroke-width="1"/>
<line x1="304.79" y1="433.3" x2="304.79" y2="435.9" stroke="#999999" stroke-width="1"/>
<line x1="341.4" y1="589.3" x2="341.4" y2="586.7" stroke="#999999" stroke-width="1"/>
<line x1="341.4" y1="433.3" x2="341.4" y2="435.9" stroke="#999999" stroke-width="1"/>
<line x1="48.5" y1="589.3" x2="51.1" y2="589.3" stroke="#999999" stroke-width="1"/>
<line x1="341.4" y1="589.3" x2="338.8" y2="589.3" stroke="#999999" stroke-width="1"/>
<line x1="48.5" y1="550.3" x2="51.1" y2="550.3" stroke="#999999" stroke-width="1"/>
<line x1="341.4" y1="550.3" x2="338.8" y2="550.3" stroke="#999999" stroke-width="1"/>
<line x1="48.5" y1="511.3" x2="51.1" y2="511.3" stroke="#999999" stroke-width="1"/>
<line x1="341.4" y1="511.3" x2="338.8" y2="511.3" stroke="#999999" stroke-width="1"/>
<line x1="48.5" y1="472.3" x2="51.1" y2="472.3" stroke="#999999" stroke-width="1"/>
<line x1="341.4" y1="472.3" x2="338.8" y2="472.3" stroke="#999999" stroke-width="1"/>
<line x1="48.5" y1="433.3" x2="51.1" y2="433.3" stroke="#999999" stroke-width="1"/>
<line x1="341.4" y1="433.3" x2="338.8" y2="433.3" stroke="#999999" stroke-width="1"/>
<text x="40.6" y="604.61" font-size="11.5" text-anchor="middle" fill="#262626">0</text>
<text x="85.11" y="604.61" font-size="11.5" text-anchor="middle" fill="#262626">1</text>
<text x="121.72" y="604.61" font-size="11.5" text-anchor="middle" fill="#262626">2</text>
<text x="158.34" y="604.61" font-size="11.5" text-anchor="middle" fill="#262626">3</text>
<text x="194.95" y="604.61" font-size="11.5" text-anchor="middle" fill="#262626">4</text>
<text x="231.56" y="604.61" font-size="11.5" text-anchor="middle" fill="#262626">5</text>
<text x="268.17" y="604.61" font-size="11.5" text-anchor="middle" fill="#262626">6</text>
<text x="304.79" y="604.61" font-size="11.5" text-anchor="middle" fill="#262626">7</text>
<text x="341.4" y="604.61" font-size="11.5" text-anchor="middle" fill="#262626">8</text>
<text x="43.3" y="437.21" font-size="11.5" text-anchor="end" fill="#262626">2.0</text>
<text x="43.3" y="476.21" font-size="11.5" text-anchor="end" fill="#262626">1.5</text>
<text x="43.3" y="515.21" font-size="11.5" text-anchor="end" fill="#262626">1.0</text>
<text x="43.3" y="554.21" font-size="11.5" text-anchor="end" fill="#262626">0.5</text>
<text x="48.2" y="427.3" font-size="11.5" fill="#262626">(×10<tspan font-size="8.2" dy="-4.3">6</tspan><tspan dy="4.3">)</tspan></text>
<text x="310.2" y="621.5" font-size="11.5" fill="#262626">(×10<tspan font-size="8.2" dy="-4.3">&#8722;2</tspan><tspan dy="4.3">)</tspan></text>
<text x="194.5" y="619.09" font-size="13.5" text-anchor="middle" font-style="italic" fill="#262626">m</text>
<text x="1.5" y="512.8" font-size="13.5" font-style="italic" fill="#262626">Re<tspan font-size="10" dy="4">tr</tspan></text>
<text x="1" y="439" font-size="13.5" fill="#262626">(<tspan font-style="italic">c</tspan>)</text>
<rect x="301.7" y="428.4" width="44" height="61.2" fill="#fff" stroke="#999999" stroke-width="1"/>
<line x1="304.6" y1="436.9" x2="325.1" y2="436.9" stroke="#000000" stroke-width="1.2"/>
<rect x="311.8" y="433.8" width="6.2" height="6.2" fill="#000000" stroke="#000000" stroke-width="0.3"/>
<text x="327.5" y="441.01" font-size="12.1" text-anchor="start" fill="#262626">C8</text>
<line x1="304.6" y1="451.9" x2="325.1" y2="451.9" stroke="#a4123f" stroke-width="1.2"/>
<circle cx="314.9" cy="451.9" r="3.6" fill="#a4123f" stroke="#a4123f" stroke-width="0.4"/>
<text x="327.5" y="456.01" font-size="12.1" text-anchor="start" fill="#262626">C1</text>
<line x1="304.6" y1="466.4" x2="325.1" y2="466.4" stroke="#1a78c8" stroke-width="1.2"/>
<polygon points="314.9,470.65 310.65,463.21 319.15,463.21" fill="#1a78c8" stroke="#1a78c8" stroke-width="0.4" stroke-linejoin="miter"/>
<text x="327.5" y="470.51" font-size="12.1" text-anchor="start" fill="#262626">C5</text>
<line x1="304.6" y1="481" x2="325.1" y2="481" stroke="#eda916" stroke-width="1.2"/>
<polygon points="314.9,476.75 310.65,484.19 319.15,484.19" fill="#eda916" stroke="#eda916" stroke-width="0.4" stroke-linejoin="miter"/>
<text x="327.5" y="485.11" font-size="12.1" text-anchor="start" fill="#262626">C9</text>
</g></svg></body></html>
